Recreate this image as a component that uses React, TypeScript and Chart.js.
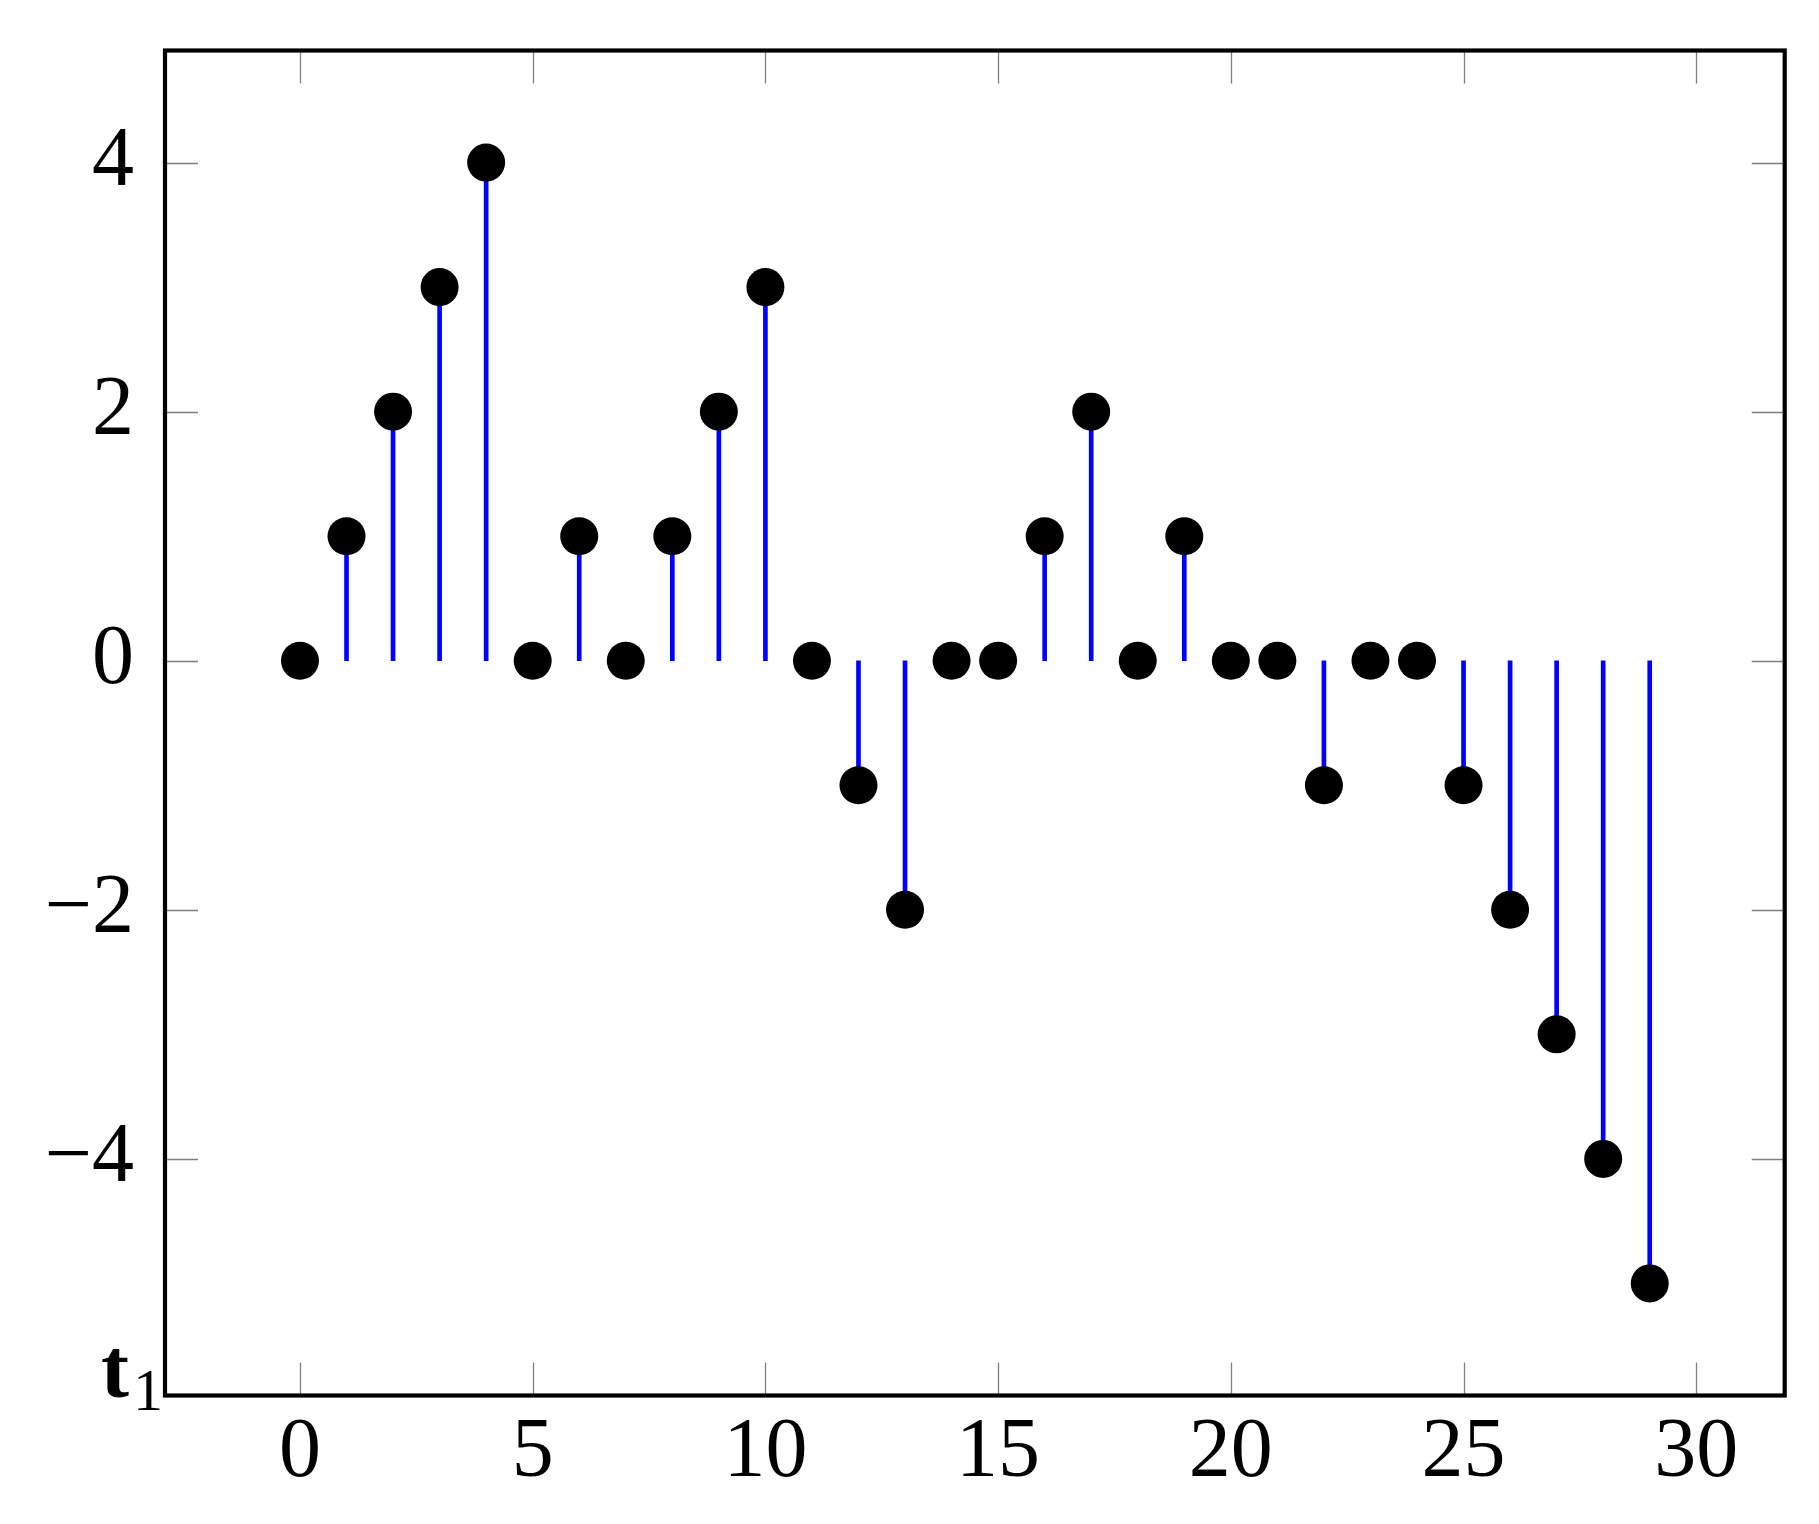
import { useEffect, useRef } from "react";
import { Chart, registerables } from "chart.js";

Chart.register(...registerables);

const xIndex = [0, 1, 2, 3, 4, 5, 6, 7, 8, 9, 10, 11, 12, 13, 14, 15, 16, 17, 18, 19, 20, 21, 22, 23, 24, 25, 26, 27, 28, 29];
const values = [0, 1, 2, 3, 4, 0, 1, 0, 1, 2, 3, 0, -1, -2, 0, 0, 1, 2, 0, 1, 0, 0, -1, 0, 0, -1, -2, -3, -4, -5];
const xTicks = [0, 5, 10, 15, 20, 25, 30];
const xTickLabels = ["0", "5", "10", "15", "20", "25", "30"];
const yTicks = [-4, -2, 0, 2, 4];
const yTickLabels = ["\u22124", "\u22122", "0", "2", "4"];
const yAxisLabel = "t";
const yAxisLabelSub = "1";

const FONT = "'Liberation Serif', 'DejaVu Serif', serif";

const framePlugin = {
  id: "pgfFrame",
  beforeDatasetsDraw(chart: any) {
    const { ctx, chartArea: a, scales } = chart;
    const L = 33;
    ctx.save();
    ctx.strokeStyle = "#808080";
    ctx.lineWidth = 1.3;
    ctx.beginPath();
    for (const t of scales.x.ticks) {
      const px = Math.round(scales.x.getPixelForValue(t.value)) + 0.5;
      ctx.moveTo(px, a.top);
      ctx.lineTo(px, a.top + L);
      ctx.moveTo(px, a.bottom);
      ctx.lineTo(px, a.bottom - L);
    }
    for (const t of scales.y.ticks) {
      const py = Math.round(scales.y.getPixelForValue(t.value)) + 0.5;
      ctx.moveTo(a.left, py);
      ctx.lineTo(a.left + L, py);
      ctx.moveTo(a.right, py);
      ctx.lineTo(a.right - L, py);
    }
    ctx.stroke();
    ctx.restore();
  },
  afterDraw(chart: any) {
    const { ctx, chartArea: a } = chart;
    ctx.save();
    ctx.strokeStyle = "#000";
    ctx.lineWidth = 4.2;
    ctx.strokeRect(a.left, a.top, a.right - a.left, a.bottom - a.top);
    ctx.fillStyle = "#000";
    ctx.textBaseline = "alphabetic";
    ctx.textAlign = "left";
    ctx.font = `bold 84px ${FONT}`;
    ctx.fillText(yAxisLabel, 101, 1397);
    ctx.font = `60px ${FONT}`;
    ctx.fillText(yAxisLabelSub, 133, 1410);
    ctx.restore();
  },
};

export default function App() {
  const ref = useRef<HTMLCanvasElement | null>(null);
  useEffect(() => {
    if (!ref.current) return;
    const chart = new Chart(ref.current, {
      type: "bar",
      data: {
        datasets: [
          {
            type: "scatter",
            data: xIndex.map((x, i) => ({ x, y: values[i] })),
            backgroundColor: "#000",
            borderWidth: 0,
            pointRadius: 19,
            pointHoverRadius: 19,
            order: 0,
          } as any,
          {
            type: "bar",
            data: xIndex.map((x, i) => ({ x, y: values[i] })),
            backgroundColor: "#0000ff",
            borderWidth: 0,
            barThickness: 4,
            order: 1,
          } as any,
        ],
      },
      options: {
        responsive: false,
        animation: false,
        layout: { padding: { left: 0, top: 50.5, right: 34.3, bottom: 0 } },
        plugins: { legend: { display: false }, tooltip: { enabled: false } },
        scales: {
          x: {
            type: "linear",
            offset: false,
            min: -2.9,
            max: 31.9,
            grid: { display: false, drawTicks: false, offset: false },
            border: { display: false },
            afterBuildTicks: (s: any) => {
              s.ticks = xTicks.map((v) => ({ value: v }));
            },
            afterFit: (s: any) => {
              s.height = 128.5;
              s.paddingLeft = 0;
              s.paddingRight = 0;
            },
            ticks: {
              autoSkip: false,
              maxRotation: 0,
              padding: 8,
              color: "#000",
              font: { family: FONT, size: 84 },
              callback: (v: any) => xTickLabels[xTicks.indexOf(Number(v))] ?? "",
            },
          },
          y: {
            type: "linear",
            min: -5.9,
            max: 4.9,
            grid: { display: false, drawTicks: false },
            border: { display: false },
            afterBuildTicks: (s: any) => {
              s.ticks = yTicks.map((v) => ({ value: v }));
            },
            afterFit: (s: any) => {
              s.width = 165;
              s.paddingTop = 0;
              s.paddingBottom = 0;
            },
            ticks: {
              autoSkip: false,
              padding: 31,
              color: "#000",
              font: { family: FONT, size: 84 },
              callback: (v: any) => yTickLabels[yTicks.indexOf(Number(v))] ?? "",
            },
          },
        },
      } as any,
      plugins: [framePlugin],
    });
    return () => chart.destroy();
  }, []);
  return (
    <div style={{ position: "absolute", left: 0, top: 0, width: 1819, height: 1524, background: "#fff" }}>
      <canvas ref={ref} width={1819} height={1524} style={{ display: "block" }} />
    </div>
  );
}
